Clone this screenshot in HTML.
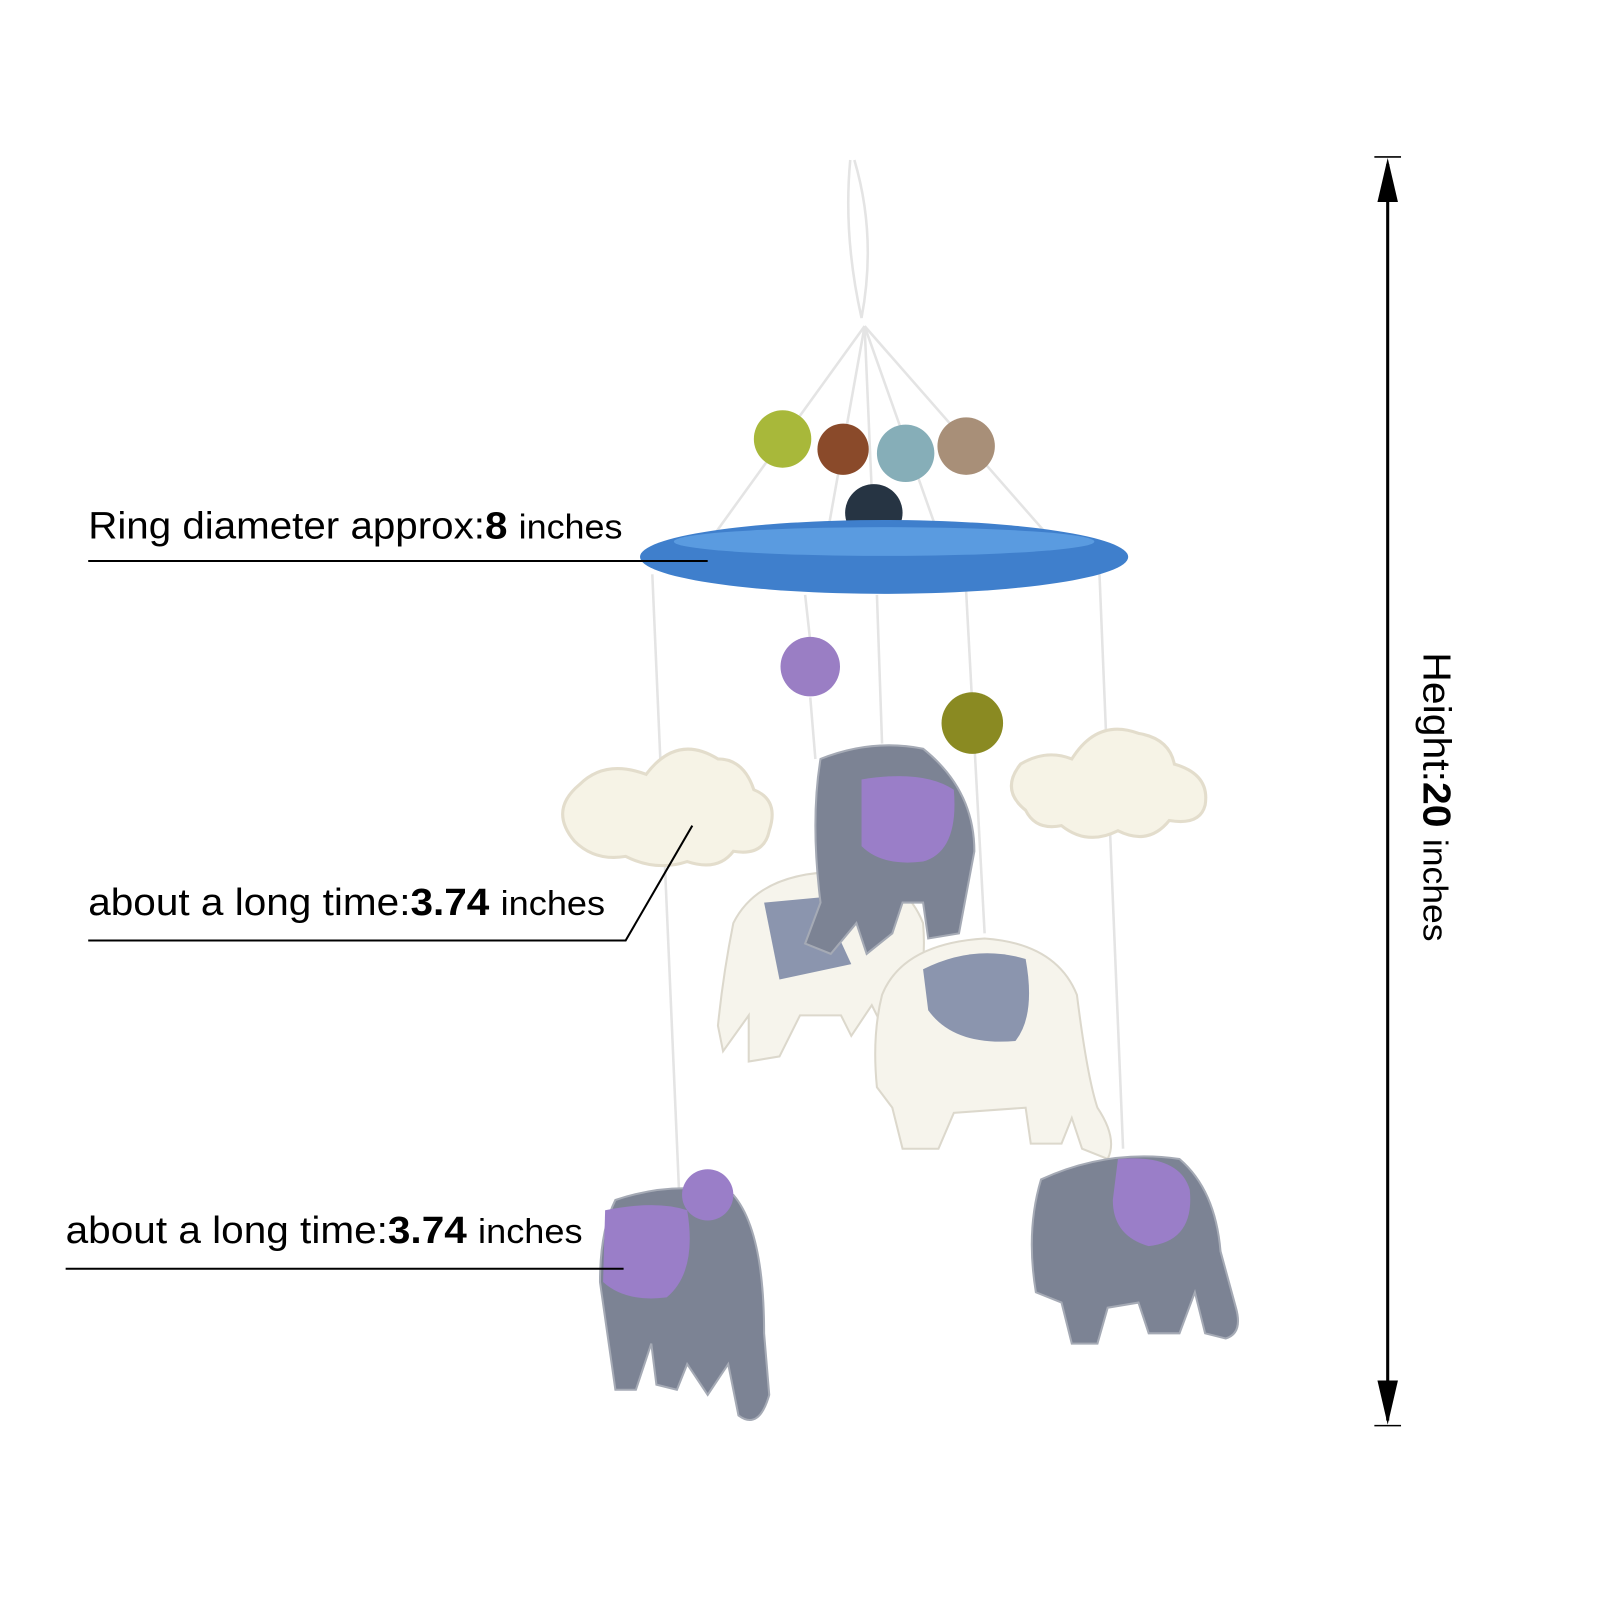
<!DOCTYPE html>
<html><head><style>html,body{margin:0;padding:0;background:#fff}svg{display:block}</style></head>
<body>
<svg width="1600" height="1600" viewBox="0 0 1560 1560" xmlns="http://www.w3.org/2000/svg" font-family="Liberation Sans, sans-serif">
<g stroke="#e4e4e4" stroke-width="2.5" fill="none">
<path d="M829 156 Q822 230 840 310 Q855 230 833 156"/>
<line x1="843" y1="318" x2="690" y2="530"/><line x1="843" y1="318" x2="805" y2="530"/>
<line x1="843" y1="318" x2="918" y2="530"/><line x1="843" y1="318" x2="1020" y2="520"/>
<line x1="843" y1="318" x2="850" y2="480"/>
<line x1="636" y1="560" x2="662" y2="1160"/><line x1="785" y1="580" x2="790" y2="625"/>
<line x1="855" y1="580" x2="860" y2="725"/><line x1="940" y1="540" x2="960" y2="910"/>
<line x1="1072" y1="560" x2="1095" y2="1120"/><line x1="790" y1="680" x2="795" y2="740"/>
</g>
<circle cx="763" cy="428" r="28" fill="#a8b83a"/>
<circle cx="822" cy="438" r="25" fill="#8a4a2a"/>
<circle cx="883" cy="442" r="28" fill="#86aeb8"/>
<circle cx="942" cy="435" r="28" fill="#a88f78"/>
<circle cx="852" cy="500" r="28" fill="#263443"/>
<ellipse cx="862" cy="543" rx="238" ry="36" fill="#3f7fcc"/>
<ellipse cx="862" cy="528" rx="205" ry="14" fill="#5a9be0"/>
<circle cx="790" cy="650" r="29" fill="#9a7ec4"/>
<circle cx="948" cy="705" r="30" fill="#8a8a22"/>
<g fill="#f6f3e6" stroke="#e3ddcc" stroke-width="3">
<path d="M560 820 Q535 790 565 765 Q590 740 630 755 Q660 715 700 740 Q725 740 735 770 Q760 780 750 810 Q745 835 715 830 Q700 850 670 840 Q640 850 610 835 Q580 840 560 820Z"/>
<path d="M1000 790 Q975 770 995 745 Q1020 730 1045 740 Q1070 700 1110 715 Q1140 720 1145 745 Q1180 755 1175 785 Q1170 805 1140 800 Q1120 825 1090 810 Q1060 825 1035 805 Q1010 810 1000 790Z"/>
</g>
<g fill="#f6f4ec" stroke="#dcd8cc" stroke-width="2">
<path d="M715 900 Q740 850 820 850 Q880 850 900 900 Q905 960 880 1000 L860 1000 L850 980 L830 1010 L820 990 L780 990 L760 1030 L730 1035 L730 990 L705 1025 L700 1000 Q705 950 715 900Z"/>
<path d="M860 970 Q880 920 960 915 Q1030 920 1050 970 Q1060 1050 1070 1080 Q1090 1110 1080 1130 L1055 1120 L1045 1090 L1035 1115 L1005 1115 L1000 1080 L930 1085 L915 1120 L880 1120 L870 1080 L855 1060 Q850 1010 860 970Z"/>
</g>
<path d="M745 880 L800 875 L830 940 L760 955 Z" fill="#8b95ae"/>
<path d="M900 945 Q950 920 1000 935 Q1010 990 990 1015 Q930 1020 905 985Z" fill="#8b95ae"/>
<g fill="#7c8394" stroke="#a5aab5" stroke-width="2">
<path d="M800 740 Q850 720 900 730 Q950 770 950 830 L935 910 L905 915 L900 880 L880 880 L870 910 L845 930 L835 900 L810 930 L785 920 L800 880 Q790 800 800 740Z"/>
<path d="M600 1170 Q660 1150 715 1165 Q745 1200 745 1300 L750 1360 Q740 1395 720 1380 L710 1330 L690 1360 L670 1330 L660 1355 L640 1350 L635 1310 L620 1355 L600 1355 L585 1250 Q585 1200 600 1170Z"/>
<path d="M1015 1150 Q1080 1120 1150 1130 Q1185 1160 1190 1220 L1205 1275 Q1212 1300 1195 1305 L1175 1300 L1165 1260 L1150 1300 L1120 1300 L1110 1270 L1080 1275 L1070 1310 L1045 1310 L1035 1270 L1010 1260 Q1000 1200 1015 1150Z"/>
</g>
<g fill="#9a7ec8">
<path d="M840 760 Q900 750 930 770 Q935 830 900 840 Q860 845 840 825Z"/>
<path d="M590 1180 Q640 1170 670 1180 Q680 1240 650 1265 Q610 1270 588 1250Z"/>
<path d="M1090 1130 Q1150 1125 1160 1160 Q1165 1210 1120 1215 Q1085 1205 1085 1170Z"/>
<circle cx="690" cy="1165" r="25"/>
</g>
<g fill="#000" font-size="37">
<text x="86" y="525" textLength="521" lengthAdjust="spacingAndGlyphs">Ring diameter approx:<tspan font-weight="bold">8</tspan> <tspan font-size="33">inches</tspan></text>
<text x="86" y="892" textLength="504" lengthAdjust="spacingAndGlyphs">about a long time:<tspan font-weight="bold">3.74</tspan> <tspan font-size="33">inches</tspan></text>
<text x="64" y="1212" textLength="504" lengthAdjust="spacingAndGlyphs">about a long time:<tspan font-weight="bold">3.74</tspan> <tspan font-size="33">inches</tspan></text>
</g>
<g stroke="#000" stroke-width="2" fill="none">
<line x1="86" y1="547" x2="690" y2="547"/>
<polyline points="86,917 610,917 675,805"/>
<line x1="64" y1="1237" x2="608" y2="1237"/>
</g>
<g stroke="#000" stroke-width="3">
<line x1="1353" y1="160" x2="1353" y2="1385"/>
<line x1="1340" y1="153" x2="1366" y2="153" stroke-width="1.5"/>
<line x1="1340" y1="1390" x2="1366" y2="1390" stroke-width="1.5"/>
</g>
<polygon points="1353,154 1343,197 1363,197" fill="#000"/>
<polygon points="1353,1389 1343,1346 1363,1346" fill="#000"/>
<text transform="translate(1388,636) rotate(90)" font-size="38" fill="#000" textLength="282" lengthAdjust="spacingAndGlyphs">Height:<tspan font-weight="bold">20</tspan> <tspan font-size="33">inches</tspan></text>
</svg>
</body></html>
